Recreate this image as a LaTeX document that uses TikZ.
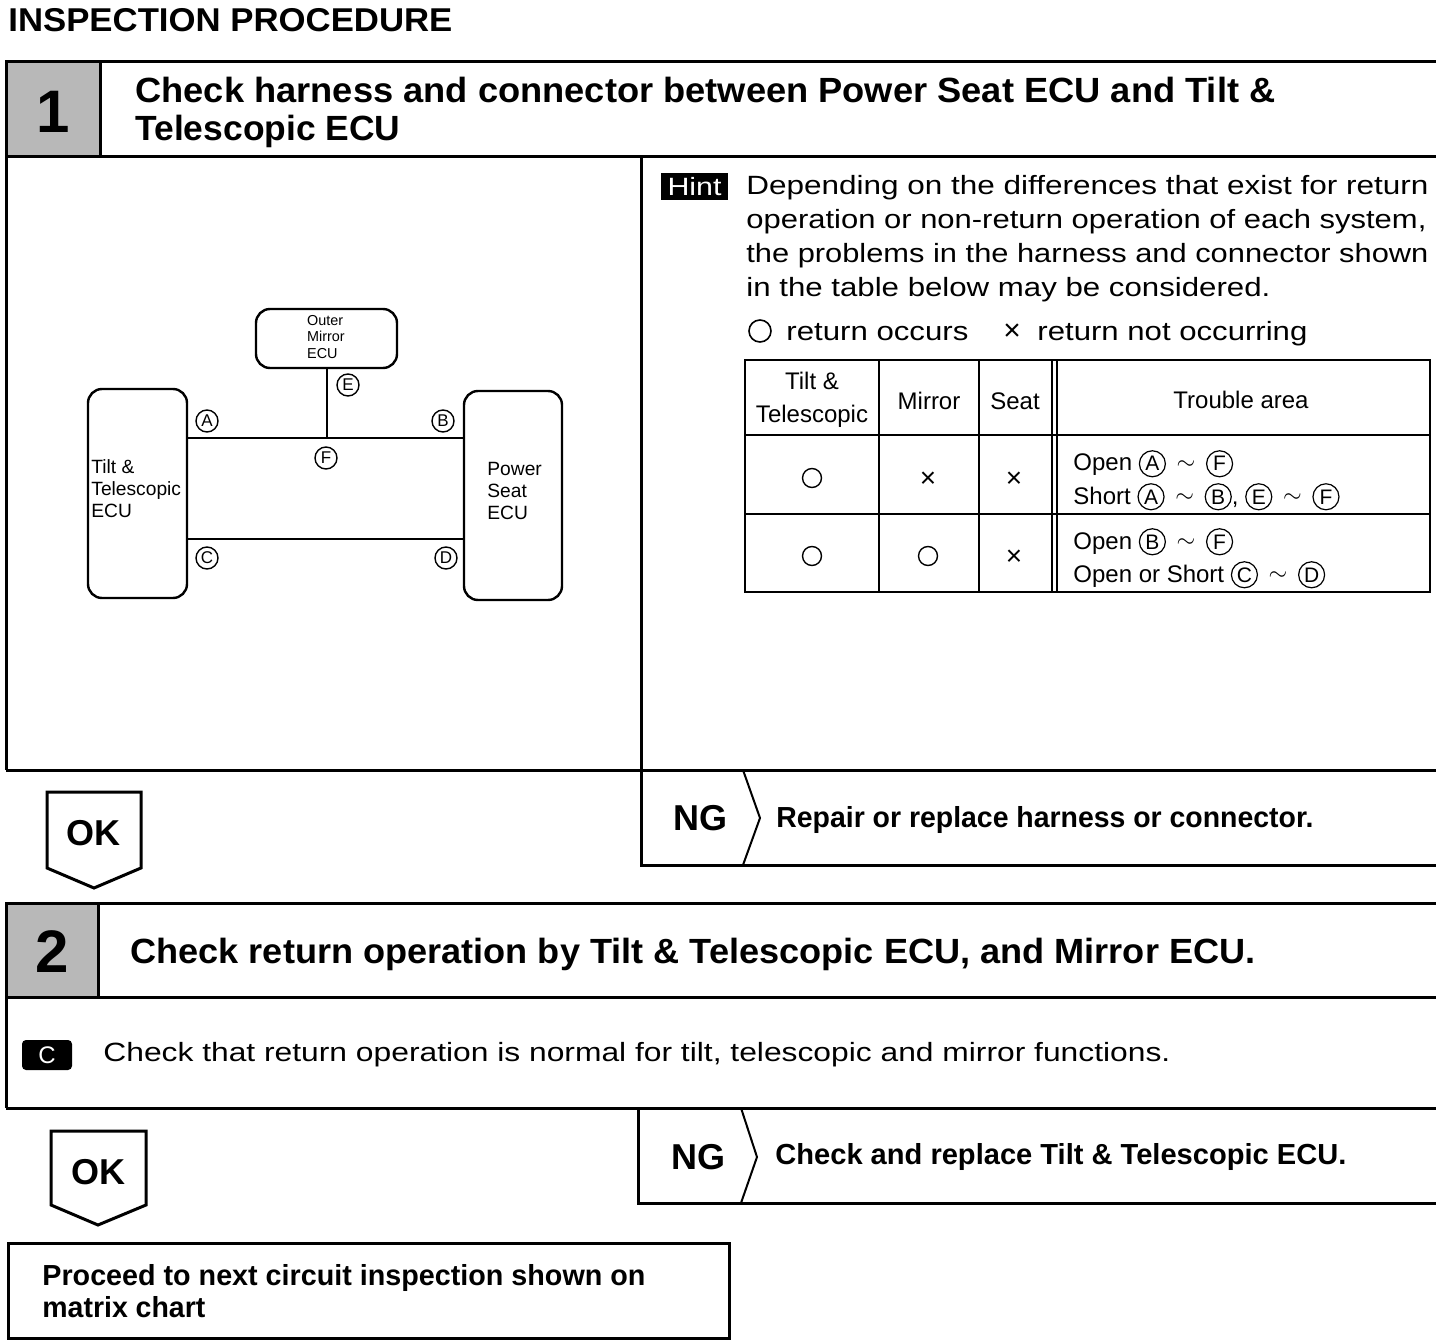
\documentclass[tikz,border=0pt]{standalone}
\usepackage{fontspec}
\setmainfont{Liberation Sans}
\usepackage{graphicx}
\newcommand\fw[2]{\resizebox{#1}{\height}{#2}}
\newcommand\cl[1]{\tikz[baseline=(clx.base)]\node[draw,circle,line width=0.6pt,inner sep=0pt,minimum size=13pt,font=\fontsize{10.5}{10.5}\selectfont](clx){#1};}
\tikzset{
  frame/.style={line width=1.5pt},
  thin/.style={line width=1pt},
  shade/.style={fill=black!28},
  bigno/.style={font=\bfseries\fontsize{30}{30}\selectfont},
  hdr/.style={anchor=base west,inner sep=0,font=\bfseries\fontsize{17.5}{17.5}\selectfont},
  body/.style={anchor=base west,inner sep=0,font=\fontsize{13.2}{13.2}\selectfont},
  act/.style={anchor=base west,inner sep=0,font=\bfseries\fontsize{14.5}{14.5}\selectfont},
  okng/.style={font=\bfseries\fontsize{18}{18}\selectfont,inner sep=0},
  ecu/.style={draw,line width=1.2pt,rounded corners=7pt,inner sep=0},
  ecutxt/.style={align=left,font=\fontsize{9.6}{11}\selectfont,inner sep=0},
  circ/.style={draw,circle,line width=0.7pt,inner sep=0pt,minimum size=11pt,font=\fontsize{8.5}{8.5}\selectfont},
  wire/.style={line width=1pt},
  tcell/.style={font=\fontsize{12}{16.5}\selectfont,align=center,inner sep=0},
  ocirc/.style={draw,circle,line width=0.7pt,inner sep=0,minimum size=9.5pt},
  tx/.style={font=\fontsize{14}{14}\selectfont,inner sep=0},
}
\begin{document}
\begin{tikzpicture}[x=0.5pt,y=-0.5pt]
\useasboundingbox (0,0) rectangle (1456,1342);
\fill[white] (0,0) rectangle (1456,1342);

% title
\node[anchor=base west,inner sep=0,font=\bfseries\fontsize{16.5}{16.5}\selectfont] (title) at (8,32) {\fw{222pt}{INSPECTION PROCEDURE}};

% ---------- step 1 header
\fill[shade] (6,62) rectangle (100,157);
\draw[frame] (6,770) -- (6,62) -- (1436,62);
\draw[frame] (100,62) -- (100,157);
\draw[frame] (6,157) -- (1436,157);
\node[bigno] (n1) at (53,112) {1};
\node[hdr] (h1a) at (135,103) {\fw{570pt}{Check harness and connector between Power Seat ECU and Tilt \&}};
\node[hdr] (h1b) at (135,141) {\fw{132.5pt}{Telescopic ECU}};

% body 1
\draw[frame] (6,770) -- (1436,770);
\draw[frame] (641,157) -- (641,865) -- (1436,865);

% diagram
\node[ecu,minimum width=70.5pt,minimum height=29.5pt] (mir) at (326.5,338.5) {};
\node[ecutxt,font=\fontsize{7.2}{8.3}\selectfont] (mirt) at (326,337) {Outer\\Mirror\\ECU};
\node[ecu,minimum width=49.5pt,minimum height=104.5pt] (tilt) at (137.5,493.5) {};
\node[ecutxt,anchor=west] (tiltt) at (91,489) {Tilt \&\\Telescopic\\ECU};
\node[ecu,minimum width=49pt,minimum height=104.5pt] (seat) at (513,495.5) {};
\node[ecutxt,anchor=west] (seatt) at (487,491) {Power\\Seat\\ECU};
\coordinate (yA) at (0,438);
\coordinate (yC) at (0,539);
\draw[wire] (tilt.east |- yA) -- (seat.west |- yA);
\draw[wire] (tilt.east |- yC) -- (seat.west |- yC);
\draw[wire] (mir.south) -- (mir.south |- yA);
\node[circ] (lE) at (348,385) {E};
\node[circ] (lA) at (207,421) {A};
\node[circ] (lB) at (443,421) {B};
\node[circ] (lF) at (326,458) {F};
\node[circ] (lC) at (207,558) {C};
\node[circ] (lD) at (446,558) {D};

% hint
\fill[black] (661,173) rectangle (728,200);
\node[text=white,font=\fontsize{12.5}{12.5}\selectfont,inner sep=0] (hint) at (694.5,187) {\fw{27pt}{Hint}};
\node[body] (p1) at (746,195) {\fw{341pt}{Depending on the differences that exist for return}};
\node[body] (p2) at (746,229) {\fw{340pt}{operation or non-return operation of each system,}};
\node[body] (p3) at (746,263) {\fw{341pt}{the problems in the harness and connector shown}};
\node[body] (p4) at (746,297) {\fw{262pt}{in the table below may be considered.}};
\node[draw,circle,line width=0.8pt,inner sep=0,minimum size=11pt] (lg1) at (760,331) {};
\node[body] (lg1t) at (786,341) {\fw{91pt}{return occurs}};
\node[font=\fontsize{15}{15}\selectfont,inner sep=0] (lg2) at (1012,332) {×};
\node[body] (lg2t) at (1037,341) {\fw{135pt}{return not occurring}};

% table
\draw[line width=1.3pt] (745,360) rectangle (1430,592);
\draw[thin] (745,435) -- (1430,435);
\draw[thin] (745,514) -- (1430,514);
\draw[thin] (879,360) -- (879,592);
\draw[thin] (979,360) -- (979,592);
\draw[thin] (1052,360) -- (1052,592);
\draw[thin] (1057,360) -- (1057,592);
\node[tcell] (th1) at (812,400) {Tilt \&\\Telescopic};
\node[tcell] (th2) at (929,401) {Mirror};
\node[tcell] (th3) at (1015,401) {Seat};
\node[tcell] (th4) at (1241,400) {Trouble area};
\node[ocirc] (r1a) at (812,478) {};
\node[tx] (r1b) at (928,480) {×};
\node[tx] (r1c) at (1014,480) {×};
\node[tcell,anchor=base west] (r1d) at (1073,471) {Open \cl{A} \,\raisebox{1pt}{$\sim$}\, \cl{F}};
\node[tcell,anchor=base west] (r1e) at (1073,504) {Short \cl{A} \,\raisebox{1pt}{$\sim$}\, \cl{B}, \cl{E} \,\raisebox{1pt}{$\sim$}\, \cl{F}};
\node[ocirc] (r2a) at (812,556) {};
\node[ocirc] (r2b) at (928,556) {};
\node[tx] (r2c) at (1014,558) {×};
\node[tcell,anchor=base west] (r2d) at (1073,549) {Open \cl{B} \,\raisebox{1pt}{$\sim$}\, \cl{F}};
\node[tcell,anchor=base west] (r2e) at (1073,582) {Open or Short \cl{C} \,\raisebox{1pt}{$\sim$}\, \cl{D}};

% OK 1 / NG 1
\draw[frame] (47,792) -- (141,792) -- (141,868) -- (94,888) -- (47,868) -- cycle;
\node[okng] (ok1) at (93,833) {OK};
\draw[thin] (743,770) -- (760,818) -- (743,865);
\node[okng] (ng1) at (700,818) {NG};
\node[act,anchor=west] (a1) at (776,820) {\fw{268.5pt}{Repair or replace harness or connector.}};

% ---------- step 2 header
\fill[shade] (6,903) rectangle (98,997);
\draw[frame] (6,1108) -- (6,903) -- (1436,903);
\draw[frame] (98,903) -- (98,997);
\draw[frame] (6,997) -- (1436,997);
\node[bigno] (n2) at (52,952) {2};
\node[hdr] (h2) at (130,963) {\fw{562.5pt}{Check return operation by Tilt \& Telescopic ECU, and Mirror ECU.}};

% body 2
\draw[frame] (6,1108) -- (1436,1108);
\fill[black,rounded corners=2pt] (22,1040) rectangle (72,1070);
\node[text=white,font=\fontsize{12}{12}\selectfont,inner sep=0] (cbox) at (47,1055) {C};
\node[body,anchor=west] (b2) at (103,1055) {\fw{533.5pt}{Check that return operation is normal for tilt, telescopic and mirror functions.}};

% OK 2 / NG 2
\draw[frame] (51,1131) -- (146,1131) -- (146,1205) -- (98,1225) -- (51,1205) -- cycle;
\node[okng] (ok2) at (98,1172) {OK};
\draw[frame] (638,1108) -- (638,1203) -- (1436,1203);
\draw[thin] (741,1108) -- (757,1157) -- (741,1203);
\node[okng] (ng2) at (698,1157) {NG};
\node[act,anchor=west] (a2) at (775,1157) {\fw{285.5pt}{Check and replace Tilt \& Telescopic ECU.}};

% final box
\draw[frame] (8,1243) rectangle (729,1338);
\node[act] (f1) at (42,1285) {\fw{301.5pt}{Proceed to next circuit inspection shown on}};
\node[act] (f2) at (42,1317) {\fw{81.5pt}{matrix chart}};
\end{tikzpicture}
\end{document}
